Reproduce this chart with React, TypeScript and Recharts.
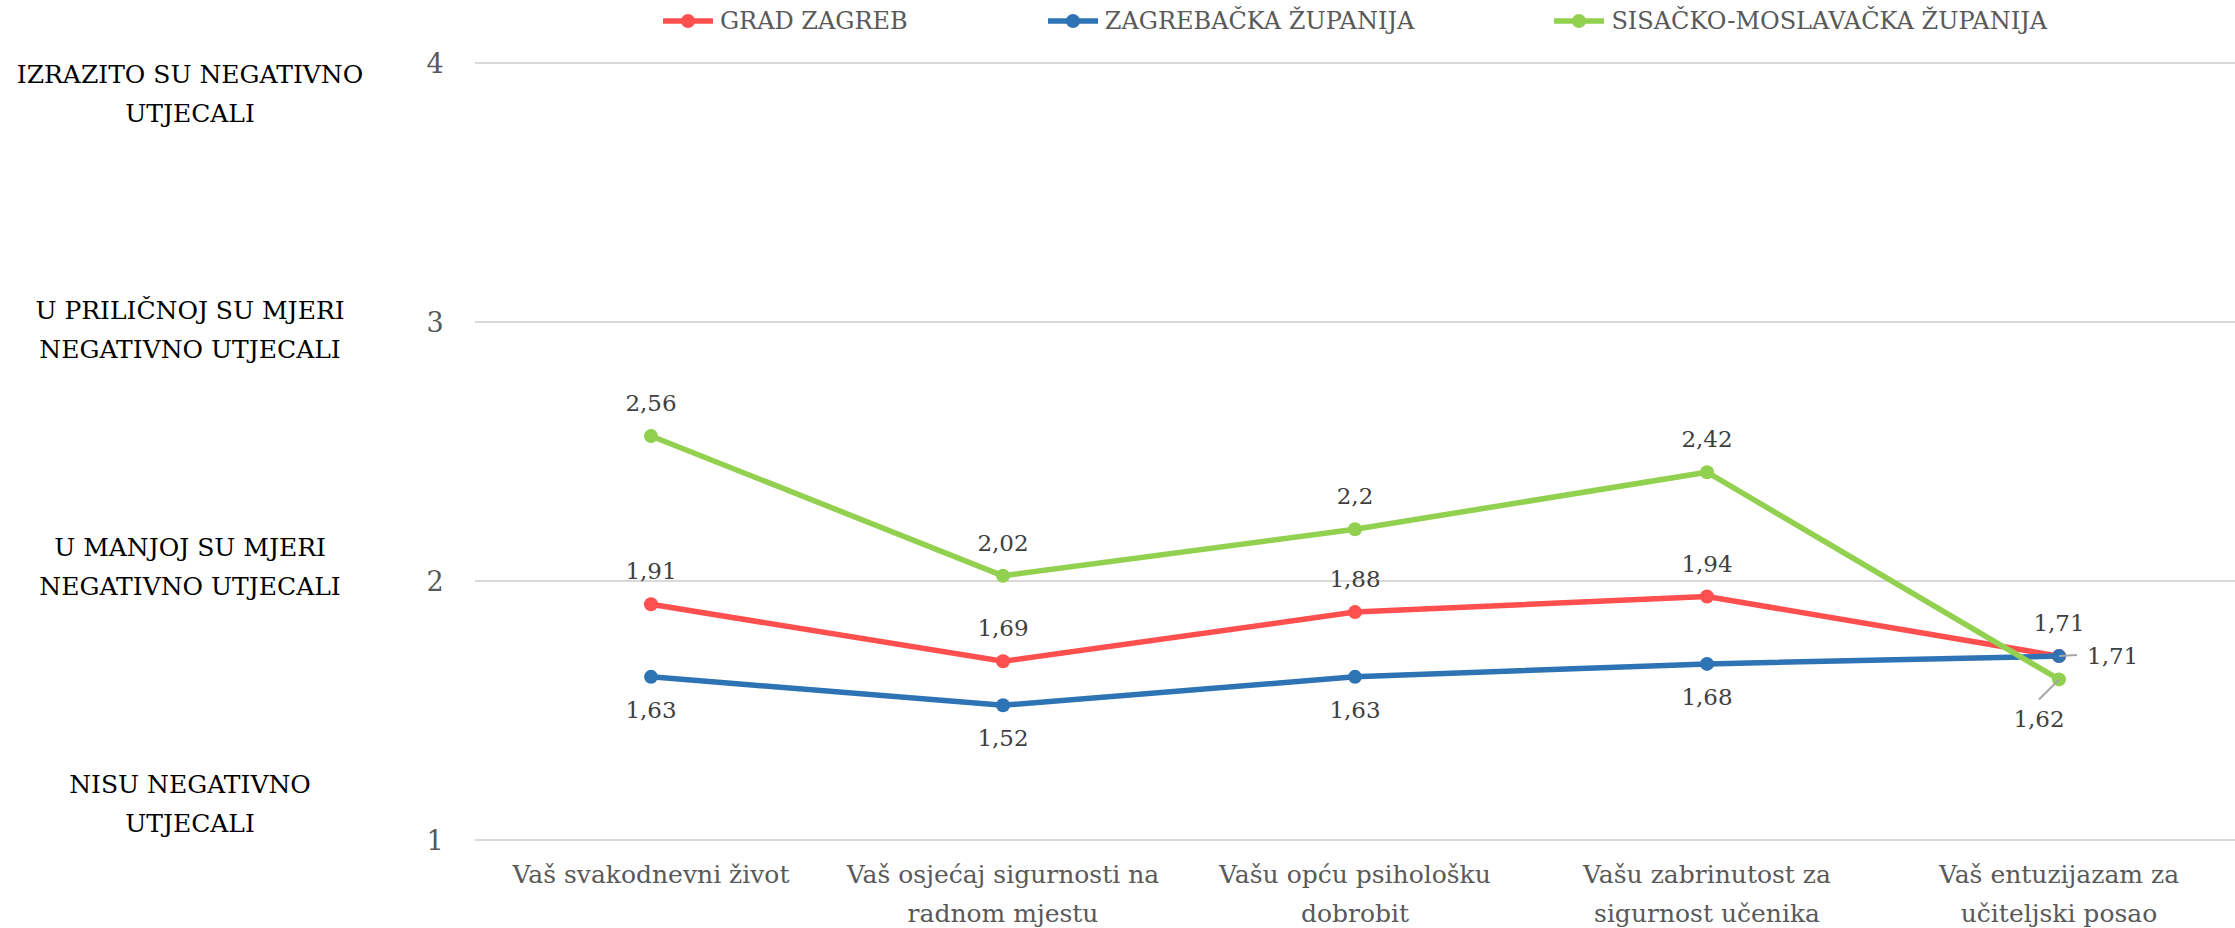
import React from "react";
import { LineChart, Line, XAxis, YAxis, CartesianGrid } from "recharts";

const CATEGORY_LINES = [
  ["Vaš svakodnevni život"],
  ["Vaš osjećaj sigurnosti na", "radnom mjestu"],
  ["Vašu opću psihološku", "dobrobit"],
  ["Vašu zabrinutost za", "sigurnost učenika"],
  ["Vaš entuzijazam za", "učiteljski posao"],
];
const CATEGORIES = CATEGORY_LINES.map((l) => l.join(" "));

const GRAD_ZAGREB = [1.91, 1.69, 1.88, 1.94, 1.71];
const ZAGREBACKA = [1.63, 1.52, 1.63, 1.68, 1.71];
const SISACKO = [2.56, 2.02, 2.2, 2.42, 1.62];

const Y_TICKS = [1, 2, 3, 4];
const Y_LABELS: Record<number, string[]> = {
  4: ["IZRAZITO SU NEGATIVNO", "UTJECALI"],
  3: ["U PRILIČNOJ SU MJERI", "NEGATIVNO UTJECALI"],
  2: ["U MANJOJ SU MJERI", "NEGATIVNO UTJECALI"],
  1: ["NISU NEGATIVNO", "UTJECALI"],
};
// vertical shift of each descriptive label relative to its tick
const Y_LABEL_SHIFT: Record<number, number> = { 4: 11, 3: -12, 2: -34, 1: -56 };

const SERIES = [
  { key: "grad", name: "GRAD ZAGREB", color: "#FF4F4F", values: GRAD_ZAGREB },
  { key: "zup", name: "ZAGREBAČKA ŽUPANIJA", color: "#2E74B5", values: ZAGREBACKA },
  { key: "sis", name: "SISAČKO-MOSLAVAČKA ŽUPANIJA", color: "#92D050", values: SISACKO },
];

const data = CATEGORIES.map((c, i) => {
  const row: any = { name: c };
  SERIES.forEach((s) => (row[s.key] = s.values[i]));
  return row;
});

const FONT = "'DejaVu Serif', serif";
const W = 2235;
const H = 928;

const fmt = (v: any) => String(v).replace(".", ",");

function XTick({ x, y, payload }: any) {
  const idx = CATEGORIES.indexOf(payload.value);
  const lines = CATEGORY_LINES[idx] || [payload.value];
  return (
    <g>
      {lines.map((l, i) => (
        <text
          key={i}
          x={x}
          y={y + 43 + i * 39}
          textAnchor="middle"
          fontFamily={FONT}
          fontSize={25}
          fill="#595959"
        >
          {l}
        </text>
      ))}
    </g>
  );
}

function YTick({ x, y, payload }: any) {
  const v = payload.value;
  const lines = Y_LABELS[v] || [];
  const shift = Y_LABEL_SHIFT[v] || 0;
  return (
    <g>
      <text x={x - 40} y={y + 10} textAnchor="middle" fontFamily={FONT} fontSize={27} fill="#595959">
        {v}
      </text>
      {lines.map((l, i) => (
        <text
          key={i}
          x={x - 285}
          y={y + shift + 9 + i * 39}
          textAnchor="middle"
          fontFamily={FONT}
          fontSize={25}
          fill="#000000"
        >
          {l}
        </text>
      ))}
    </g>
  );
}

function makeLabel(seriesKey: string) {
  return (props: any) => {
    const { x, y, value, index } = props;
    const common = { fontFamily: FONT, fontSize: 23, fill: "#404040" };
    const last = index === CATEGORIES.length - 1;
    if (seriesKey === "zup" && last) {
      return (
        <g key={`l-${seriesKey}-${index}`}>
          <line x1={x} y1={y} x2={x + 18} y2={y - 1} stroke="#a6a6a6" strokeWidth={2} />
          <text x={x + 28} y={y + 8} textAnchor="start" {...common}>
            {fmt(value)}
          </text>
        </g>
      );
    }
    if (seriesKey === "sis" && last) {
      return (
        <g key={`l-${seriesKey}-${index}`}>
          <line x1={x} y1={y} x2={x - 20} y2={y + 20} stroke="#a6a6a6" strokeWidth={2} />
          <text x={x - 20} y={y + 48} textAnchor="middle" {...common}>
            {fmt(value)}
          </text>
        </g>
      );
    }
    const below = seriesKey === "zup";
    return (
      <text
        key={`l-${seriesKey}-${index}`}
        x={x}
        y={below ? y + 41 : y - 25}
        textAnchor="middle"
        {...common}
      >
        {fmt(value)}
      </text>
    );
  };
}

function LegendBar() {
  return (
    <div
      style={{
        position: "absolute",
        top: 0,
        left: 475,
        width: W - 475,
        height: 42,
        display: "flex",
        justifyContent: "center",
        alignItems: "center",
        gap: 140,
        fontFamily: FONT,
        fontSize: 24,
        color: "#595959",
      }}
    >
      {SERIES.map((s) => (
        <div key={s.key} style={{ display: "flex", alignItems: "center" }}>
          <svg width={50} height={16}>
            <line x1={0} y1={8} x2={50} y2={8} stroke={s.color} strokeWidth={5.5} />
            <circle cx={25} cy={8} r={7} fill={s.color} />
          </svg>
          <span style={{ marginLeft: 7, whiteSpace: "nowrap" }}>{s.name}</span>
        </div>
      ))}
    </div>
  );
}

export default function App() {
  return (
    <div style={{ position: "absolute", top: 0, left: 0, width: W, height: H, background: "#fff" }}>
      <LineChart width={W} height={H} data={data} margin={{ top: 63, right: 0, bottom: 0, left: 0 }}>
        <CartesianGrid vertical={false} stroke="#d9d9d9" strokeWidth={2} />
        <XAxis
          dataKey="name"
          height={88}
          axisLine={false}
          tickLine={false}
          tickSize={0}
          tickMargin={0}
          padding={{ left: 176, right: 176 }}
          tick={<XTick />}
          interval={0}
        />
        <YAxis
          width={475}
          domain={[1, 4]}
          ticks={Y_TICKS}
          axisLine={false}
          tickLine={false}
          tickSize={0}
          tickMargin={0}
          tick={<YTick />}
          interval={0}
        />
        {SERIES.map((s) => (
          <Line
            key={s.key}
            dataKey={s.key}
            name={s.name}
            type="linear"
            stroke={s.color}
            strokeWidth={5.5}
            dot={{ r: 7, fill: s.color, stroke: s.color, strokeWidth: 0 }}
            activeDot={false}
            isAnimationActive={false}
            label={makeLabel(s.key)}
          />
        ))}
      </LineChart>
      <LegendBar />
    </div>
  );
}
